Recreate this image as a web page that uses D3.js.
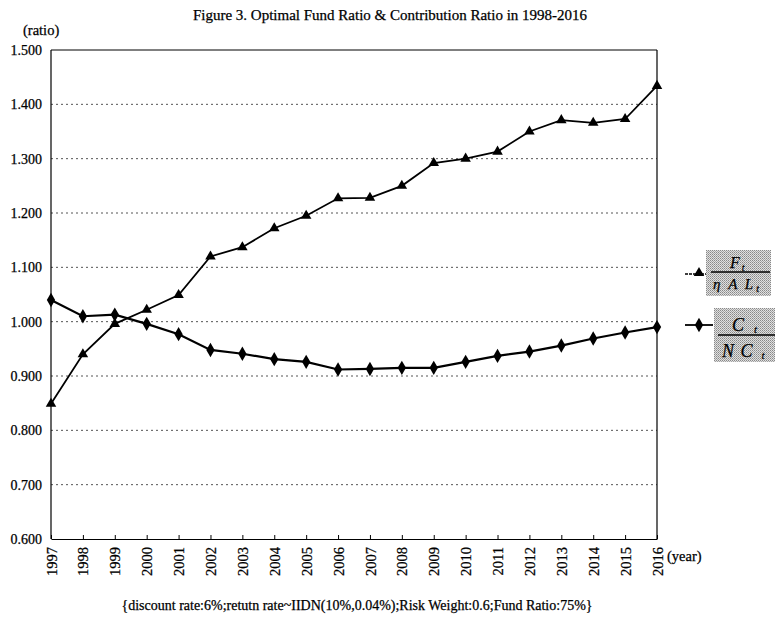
<!DOCTYPE html>
<html>
<head>
<meta charset="utf-8">
<script src="https://cdn.jsdelivr.net/npm/d3@7"></script>
<style>
  body { margin: 0; background: #fff; }
  svg text { font-family: "Liberation Serif", "Times New Roman", serif; fill: #000; stroke: #000; stroke-width: 0.25px; }
</style>
</head>
<body>
<svg id="chart" width="775" height="617"></svg>
<script>
const years = [1997,1998,1999,2000,2001,2002,2003,2004,2005,2006,2007,2008,2009,2010,2011,2012,2013,2014,2015,2016];
const fundRatio = [0.849,0.940,0.996,1.022,1.049,1.120,1.137,1.172,1.195,1.227,1.228,1.250,1.292,1.300,1.313,1.350,1.371,1.366,1.373,1.434];
const contribRatio = [1.040,1.010,1.013,0.996,0.977,0.948,0.941,0.931,0.926,0.912,0.913,0.915,0.915,0.926,0.937,0.945,0.956,0.969,0.980,0.990];
const yTicks = [0.6,0.7,0.8,0.9,1.0,1.1,1.2,1.3,1.4,1.5];
const titleText = "Figure 3. Optimal Fund Ratio & Contribution Ratio in 1998-2016";
const footnote = "{discount rate:6%;retutn rate~IIDN(10%,0.04%);Risk Weight:0.6;Fund Ratio:75%}";

const svg = d3.select("#chart");
const pL = 51, pR = 657, pT = 50, pB = 539;

const x = d3.scalePoint().domain(years).range([pL, pR]);
const y = d3.scaleLinear().domain([0.6, 1.5]).range([pB, pT]);

// pattern for legend boxes
const defs = svg.append("defs");
const pat = defs.append("pattern").attr("id","stip").attr("width",2).attr("height",2)
  .attr("patternUnits","userSpaceOnUse");
pat.append("rect").attr("width",2).attr("height",2).attr("fill","#e0e0e0");
pat.append("rect").attr("width",1).attr("height",1).attr("fill","#888");
pat.append("rect").attr("x",1).attr("y",1).attr("width",1).attr("height",1).attr("fill","#a5a5a5");

// title
svg.append("text").attr("x", 390).attr("y", 20).attr("text-anchor","middle")
  .style("font-size","15px").text(titleText);
svg.append("text").attr("x", 23).attr("y", 35).style("font-size","14.5px").text("(ratio)");

// gridlines
svg.append("g").selectAll("line").data(yTicks.filter(v => v > 0.6 && v < 1.5)).join("line")
  .attr("x1", pL).attr("x2", pR).attr("y1", d => y(d)).attr("y2", d => y(d))
  .attr("stroke", "#555").attr("stroke-width", 1).attr("stroke-dasharray", "2,3");

// y axis
const yAxis = d3.axisLeft(y).tickValues(yTicks).tickFormat(d3.format(".3f")).tickSize(0).tickPadding(9);
const gy = svg.append("g").attr("transform", `translate(${pL},0)`).call(yAxis);
gy.select(".domain").remove();
gy.selectAll("text").style("font-size","14px").style("font-family","'Liberation Serif', serif");

// frame
svg.append("line").attr("x1", pL).attr("x2", pL).attr("y1", pT).attr("y2", pB).attr("stroke","#000").attr("stroke-width",1.2);
svg.append("line").attr("x1", pR).attr("x2", pR).attr("y1", pT).attr("y2", pB).attr("stroke","#000").attr("stroke-width",1.2);
svg.append("line").attr("x1", pL).attr("x2", pR).attr("y1", pT).attr("y2", pT).attr("stroke","#000").attr("stroke-width",1);

// x axis
const xAxis = d3.axisBottom(x).tickSizeInner(-4).tickSizeOuter(0).tickPadding(8);
const gx = svg.append("g").attr("transform", `translate(0,${pB})`).call(xAxis);
gx.select(".domain").attr("stroke","#000").attr("stroke-width",1.2);
gx.selectAll(".tick line").attr("stroke","#000");
gx.selectAll("text")
  .style("font-size","14.5px").style("font-family","'Liberation Serif', serif")
  .attr("transform","rotate(-90)").attr("text-anchor","end")
  .attr("x", -8).attr("y", 0).attr("dy", "0.35em");
svg.append("text").attr("x", 667).attr("y", 561).style("font-size","14.5px").text("(year)");

// lines
const line = d3.line().x((d,i) => x(years[i])).y(d => y(d));
svg.append("path").datum(fundRatio).attr("d", line).attr("fill","none").attr("stroke","#000").attr("stroke-width",1.8);
svg.append("path").datum(contribRatio).attr("d", line).attr("fill","none").attr("stroke","#000").attr("stroke-width",2.2);

const tri = d3.symbol().type(d3.symbolTriangle).size(48);
const dia = d3.symbol().type(d3.symbolDiamond).size(60);
svg.append("g").selectAll("path").data(fundRatio).join("path")
  .attr("d", tri).attr("transform", (d,i) => `translate(${x(years[i])},${y(d)})`).attr("fill","#000");
svg.append("g").selectAll("path").data(contribRatio).join("path")
  .attr("d", dia).attr("transform", (d,i) => `translate(${x(years[i])},${y(d)})`).attr("fill","#000");

// legend
const lg = svg.append("g");
lg.append("line").attr("x1",685).attr("x2",708).attr("y1",274).attr("y2",274).attr("stroke","#000").attr("stroke-width",1.3).attr("stroke-dasharray","3,1");
lg.append("path").attr("d", tri).attr("transform","translate(699,273)").attr("fill","#000");
lg.append("rect").attr("x",706).attr("y",250).attr("width",65).attr("height",46).attr("fill","url(#stip)");
lg.append("line").attr("x1",711).attr("x2",770).attr("y1",272).attr("y2",272).attr("stroke","#000").attr("stroke-width",1.6);
const t1 = lg.append("text").attr("x",730).attr("y",268).style("font-style","italic").style("font-size","16px");
t1.append("tspan").text("F");
t1.append("tspan").attr("dx",2).attr("dy",3).style("font-size","10px").text("t");
const t2 = lg.append("text").attr("x",713).attr("y",289).style("font-style","italic").style("font-size","15px")
  .attr("letter-spacing","2px").attr("xml:space","preserve");
t2.append("tspan").text("η A L");
t2.append("tspan").attr("dx",1).attr("dy",3).style("font-size","10px").attr("letter-spacing","0px").text("t");

lg.append("line").attr("x1",685).attr("x2",713).attr("y1",325).attr("y2",325).attr("stroke","#000").attr("stroke-width",1.8);
lg.append("path").attr("d", dia).attr("transform","translate(699,325)").attr("fill","#000");
lg.append("rect").attr("x",714).attr("y",308).attr("width",61).attr("height",54).attr("fill","url(#stip)");
lg.append("line").attr("x1",718).attr("x2",775).attr("y1",335).attr("y2",335).attr("stroke","#000").attr("stroke-width",1.6);
const t3 = lg.append("text").attr("x",732).attr("y",331).style("font-style","italic").style("font-size","18px");
t3.append("tspan").text("C");
t3.append("tspan").attr("dx",10).attr("dy",2).style("font-size","11px").text("t");
const t4 = lg.append("text").attr("x",722).attr("y",357).style("font-style","italic").style("font-size","18px")
  .attr("letter-spacing","1px").attr("xml:space","preserve");
t4.append("tspan").text("N C");
t4.append("tspan").attr("dx",8).attr("dy",2).style("font-size","11px").attr("letter-spacing","0px").text("t");

// footnote
svg.append("text").attr("x", 357).attr("y", 610).attr("text-anchor","middle").style("font-size","14px").text(footnote);
</script>
</body>
</html>
